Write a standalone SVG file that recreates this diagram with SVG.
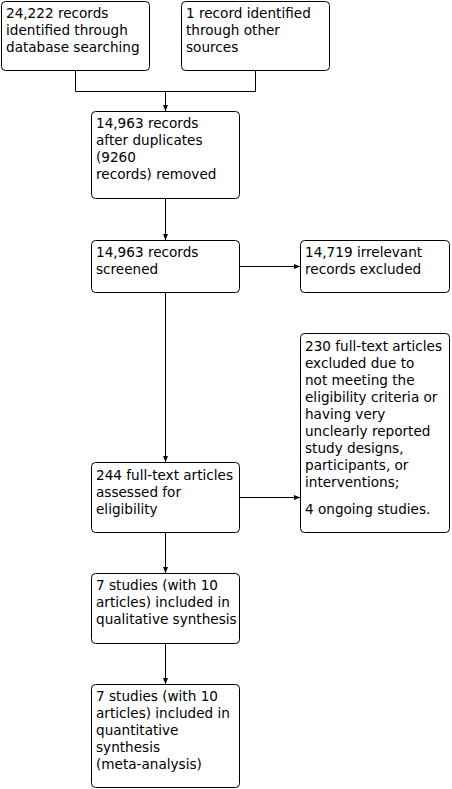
<svg xmlns="http://www.w3.org/2000/svg" width="452" height="789" viewBox="0 0 452 789">
<style>
.box{fill:#fff;stroke:#000;stroke-width:1}
.t{font-family:"DejaVu Sans",Verdana,sans-serif;font-size:13.6px;fill:#000}
.c{fill:none;stroke:#000;stroke-width:1}
</style>
<defs>
<marker id="ah" markerUnits="userSpaceOnUse" markerWidth="7" markerHeight="6" refX="6" refY="3" orient="auto">
<path d="M0,0.5 L6,3 L0,5.5 z" fill="#000"/>
</marker>
</defs>
<rect width="452" height="789" fill="#fff"/>
<g id="connectors">
<path class="c" d="M75.5,70.5 V91.5 H255.5 V70.5"/>
<path class="c" d="M165.5,91.5 V111" marker-end="url(#ah)"/>
<path class="c" d="M165.5,198.5 V240" marker-end="url(#ah)"/>
<path class="c" d="M239.5,266.5 H300" marker-end="url(#ah)"/>
<path class="c" d="M165.5,292.5 V462" marker-end="url(#ah)"/>
<path class="c" d="M239.5,497.5 H300" marker-end="url(#ah)"/>
<path class="c" d="M165.5,532.5 V573" marker-end="url(#ah)"/>
<path class="c" d="M165.5,643.5 V684" marker-end="url(#ah)"/>
</g>
<g id="n1"><rect class="box" x="1.5" y="1.5" width="148" height="69" rx="4"/>
<text class="t" x="6" y="18">24,222 records</text><text class="t" x="6" y="35">identified through</text><text class="t" x="6" y="52">database searching</text></g>
<g id="n2"><rect class="box" x="181.5" y="1.5" width="148" height="69" rx="4"/>
<text class="t" x="186" y="18">1 record identified</text><text class="t" x="186" y="35">through other</text><text class="t" x="186" y="52">sources</text></g>
<g id="n3"><rect class="box" x="91.5" y="111.5" width="148" height="87" rx="4"/>
<text class="t" x="96" y="128">14,963 records</text><text class="t" x="96" y="145">after duplicates</text><text class="t" x="96" y="162">(9260</text><text class="t" x="96" y="179">records) removed</text></g>
<g id="n4"><rect class="box" x="91.5" y="240.5" width="148" height="52" rx="4"/>
<text class="t" x="96" y="257">14,963 records</text><text class="t" x="96" y="274">screened</text></g>
<g id="n5"><rect class="box" x="300.5" y="240.5" width="149" height="52" rx="4"/>
<text class="t" x="305" y="257">14,719 irrelevant</text><text class="t" x="305" y="274">records excluded</text></g>
<g id="n6"><rect class="box" x="300.5" y="333.5" width="149" height="199" rx="4"/>
<text class="t" x="305" y="351">230 full-text articles</text><text class="t" x="305" y="368">excluded due to</text><text class="t" x="305" y="385">not meeting the</text><text class="t" x="305" y="402">eligibility criteria or</text><text class="t" x="305" y="419">having very</text><text class="t" x="305" y="436">unclearly reported</text><text class="t" x="305" y="453">study designs,</text><text class="t" x="305" y="470">participants, or</text><text class="t" x="305" y="487">interventions;</text><text class="t" x="305" y="514">4 ongoing studies.</text></g>
<g id="n7"><rect class="box" x="91.5" y="462.5" width="148" height="70" rx="4"/>
<text class="t" x="96" y="480">244 full-text articles</text><text class="t" x="96" y="497">assessed for</text><text class="t" x="96" y="514">eligibility</text></g>
<g id="n8"><rect class="box" x="91.5" y="573.5" width="148" height="70" rx="4"/>
<text class="t" x="96" y="590">7 studies (with 10</text><text class="t" x="96" y="607">articles) included in</text><text class="t" x="96" y="624">qualitative synthesis</text></g>
<g id="n9"><rect class="box" x="91.5" y="684.5" width="148" height="103" rx="4"/>
<text class="t" x="96" y="701">7 studies (with 10</text><text class="t" x="96" y="718">articles) included in</text><text class="t" x="96" y="735">quantitative</text><text class="t" x="96" y="752">synthesis</text><text class="t" x="96" y="769">(meta-analysis)</text></g>
</svg>
